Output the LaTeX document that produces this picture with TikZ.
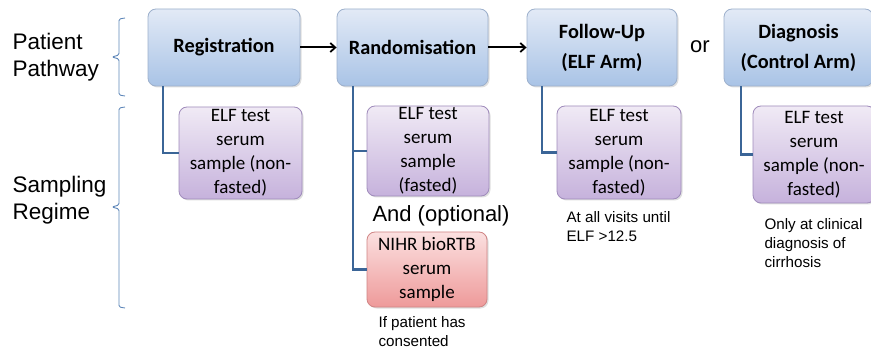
\documentclass[tikz,border=0pt]{standalone}
\usepackage{fontspec}
\setmainfont{Liberation Sans}
\newfontfamily\calib{Carlito}
\usetikzlibrary{arrows.meta,shadows}
\definecolor{bluetop}{HTML}{E2EAF6}
\definecolor{bluebot}{HTML}{A9C3E6}
\definecolor{blueedge}{HTML}{9DB0CC}
\definecolor{purtop}{HTML}{F0EAF5}
\definecolor{purbot}{HTML}{C6B2DC}
\definecolor{puredge}{HTML}{9F8BBB}
\definecolor{redtop}{HTML}{FBE0E0}
\definecolor{redbot}{HTML}{EE9A9A}
\definecolor{rededge}{HTML}{D08585}
\definecolor{conn}{HTML}{3B6597}
\definecolor{bracec}{HTML}{6088BA}
\tikzset{
  stage/.style={draw=blueedge, line width=0.8pt, rounded corners=8pt, top color=bluetop, bottom color=bluebot,
    align=center, inner sep=0pt, font=\calib\bfseries\fontsize{20.3}{30}\selectfont,
    drop shadow={opacity=0.25, shadow xshift=1.5pt, shadow yshift=-1.5pt}},
  sample/.style={draw=puredge, line width=0.8pt, rounded corners=8pt, top color=purtop, bottom color=purbot,
    align=center, inner sep=0pt, font=\calib\fontsize{19}{24}\selectfont,
    drop shadow={opacity=0.25, shadow xshift=1.5pt, shadow yshift=-1.5pt}},
  biosample/.style={sample, draw=rededge, top color=redtop, bottom color=redbot},
  link/.style={draw=conn, line width=2.4pt},
  flow/.style={draw=black, line width=2pt, -{Straight Barb[length=5pt,width=9pt,line width=1.8pt]}},
  side/.style={align=left, font=\fontsize{22.5}{27}\selectfont, anchor=west},
  note/.style={align=left, font=\fontsize{15.2}{19}\selectfont, anchor=north west},
  bracket/.style={draw=bracec, line width=0.9pt, rounded corners=1.5pt}
}
\begin{document}
\begin{tikzpicture}[x=1pt,y=-1pt]
\useasboundingbox[fill=white] (0,0) rectangle (871,350);

% left labels
\node[side] (pp) at (9,57) {Patient\\Pathway};
\node[side] (sr) at (9,200) {Sampling\\Regime};

% brackets
\draw[bracket] (125,18) -- (119,19) -- (119,55) -- (112,57) -- (119,59) -- (119,95) -- (125,96);
\draw[bracket] (125,107) -- (119,108) -- (119,205) -- (112,207) -- (119,209) -- (119,307) -- (125,308);

% stage boxes
\node[stage, minimum width=152pt, minimum height=77pt] (reg) at (224,47.5) {Registration};
\node[stage, minimum width=151pt, minimum height=77pt] (ran) at (412.5,47.5) {Randomisation};
\node[stage, minimum width=150pt, minimum height=77pt] (fol) at (602,47.5) {Follow-Up\\(ELF Arm)};
\node[stage, minimum width=149pt, minimum height=77pt] (dia) at (798.5,47.5) {Diagnosis\\(Control Arm)};
\node[font=\fontsize{22}{26}\selectfont] (or) at (700,47) {or};

\draw[flow] (reg) -- (ran);
\draw[flow] (ran) -- (fol);

% sample boxes
\node[sample, minimum width=123pt, minimum height=92pt] (s1) at (240.5,153) {ELF test\\serum\\sample (non-\\fasted)};
\node[sample, minimum width=122pt, minimum height=90pt] (s2) at (428,151) {ELF test\\serum\\sample\\(fasted)};
\node[font=\fontsize{22}{26}\selectfont] (and) at (441,216) {And (optional)};
\node[biosample, minimum width=120pt, minimum height=75pt] (s3) at (427,269.5) {NIHR bioRTB\\serum\\sample};
\node[sample, minimum width=124pt, minimum height=93pt] (s4) at (619,152.5) {ELF test\\serum\\sample (non-\\fasted)};
\node[sample, minimum width=122pt, minimum height=97pt] (s5) at (814,154.5) {ELF test\\serum\\sample (non-\\fasted)};

% notes
\node[note] (n1) at (375,313) {If patient has\\consented};
\node[note] (n2) at (563,208) {At all visits until\\ELF >12.5};
\node[note] (n3) at (761,215) {Only at clinical\\diagnosis of\\cirrhosis};

% connectors
\coordinate (x1) at (163,0);
\coordinate (x2) at (353,0);
\coordinate (x3) at (542,0);
\coordinate (x4) at (741,0);
\draw[link] (reg.south -| x1) |- (s1.west);
\draw[link] (ran.south -| x2) |- (s2.west);
\draw[link] (ran.south -| x2) |- (s3.west);
\draw[link] (fol.south -| x3) |- (s4.west);
\draw[link] (dia.south -| x4) |- (s5.west);
\end{tikzpicture}
\end{document}
